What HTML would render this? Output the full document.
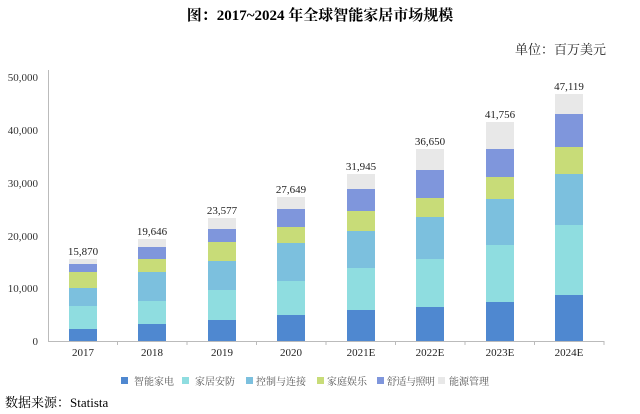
<!DOCTYPE html>
<html><head><meta charset="utf-8"><style>
html,body{margin:0;padding:0;background:#fff;}
svg{display:block;}
text{font-family:"Liberation Serif","Noto Serif CJK SC",serif;}
</style></head><body>
<svg width="640" height="414" xmlns="http://www.w3.org/2000/svg">
<text x="320" y="20" text-anchor="middle" font-size="15" font-weight="bold" fill="#000">图：2017~2024 年全球智能家居市场规模</text>
<text x="606" y="54" text-anchor="end" font-size="13" fill="#222">单位：百万美元</text>
<g font-size="11" fill="#333" text-anchor="end">
<text x="38" y="81">50,000</text>
<text x="38" y="134">40,000</text>
<text x="38" y="187">30,000</text>
<text x="38" y="240">20,000</text>
<text x="38" y="292">10,000</text>
<text x="38" y="345">0</text>
</g>
<line x1="48.5" y1="70" x2="48.5" y2="341" stroke="#bbb"/>
<line x1="48" y1="341.5" x2="604" y2="341.5" stroke="#bbb"/>
<g stroke="#bbb">
<line x1="117.5" y1="341" x2="117.5" y2="345"/><line x1="187" y1="341" x2="187" y2="345"/>
<line x1="256.5" y1="341" x2="256.5" y2="345"/><line x1="326" y1="341" x2="326" y2="345"/>
<line x1="395.5" y1="341" x2="395.5" y2="345"/><line x1="465" y1="341" x2="465" y2="345"/>
<line x1="534.5" y1="341" x2="534.5" y2="345"/><line x1="604" y1="341" x2="604" y2="345"/>
</g>
<g font-size="11" fill="#222" text-anchor="middle">
<text x="83" y="356">2017</text><text x="152" y="356">2018</text><text x="222" y="356">2019</text><text x="291" y="356">2020</text>
<text x="361" y="356">2021E</text><text x="430" y="356">2022E</text><text x="500" y="356">2023E</text><text x="569" y="356">2024E</text>
</g>
<g>
<rect x="69" y="329" width="28" height="12" fill="#4f88d0"/><rect x="69" y="306" width="28" height="23" fill="#8fdde0"/><rect x="69" y="288" width="28" height="18" fill="#7cc0de"/><rect x="69" y="272" width="28" height="16" fill="#c8dc78"/><rect x="69" y="264" width="28" height="8" fill="#7f96dc"/><rect x="69" y="259" width="28" height="5" fill="#e8e8e8"/>
<rect x="138" y="324" width="28" height="17" fill="#4f88d0"/><rect x="138" y="301" width="28" height="23" fill="#8fdde0"/><rect x="138" y="272" width="28" height="29" fill="#7cc0de"/><rect x="138" y="259" width="28" height="13" fill="#c8dc78"/><rect x="138" y="247" width="28" height="12" fill="#7f96dc"/><rect x="138" y="239" width="28" height="8" fill="#e8e8e8"/>
<rect x="208" y="320" width="28" height="21" fill="#4f88d0"/><rect x="208" y="290" width="28" height="30" fill="#8fdde0"/><rect x="208" y="261" width="28" height="29" fill="#7cc0de"/><rect x="208" y="242" width="28" height="19" fill="#c8dc78"/><rect x="208" y="229" width="28" height="13" fill="#7f96dc"/><rect x="208" y="218" width="28" height="11" fill="#e8e8e8"/>
<rect x="277" y="315" width="28" height="26" fill="#4f88d0"/><rect x="277" y="281" width="28" height="34" fill="#8fdde0"/><rect x="277" y="243" width="28" height="38" fill="#7cc0de"/><rect x="277" y="227" width="28" height="16" fill="#c8dc78"/><rect x="277" y="209" width="28" height="18" fill="#7f96dc"/><rect x="277" y="197" width="28" height="12" fill="#e8e8e8"/>
<rect x="347" y="310" width="28" height="31" fill="#4f88d0"/><rect x="347" y="268" width="28" height="42" fill="#8fdde0"/><rect x="347" y="231" width="28" height="37" fill="#7cc0de"/><rect x="347" y="211" width="28" height="20" fill="#c8dc78"/><rect x="347" y="189" width="28" height="22" fill="#7f96dc"/><rect x="347" y="174" width="28" height="15" fill="#e8e8e8"/>
<rect x="416" y="307" width="28" height="34" fill="#4f88d0"/><rect x="416" y="259" width="28" height="48" fill="#8fdde0"/><rect x="416" y="217" width="28" height="42" fill="#7cc0de"/><rect x="416" y="198" width="28" height="19" fill="#c8dc78"/><rect x="416" y="170" width="28" height="28" fill="#7f96dc"/><rect x="416" y="149" width="28" height="21" fill="#e8e8e8"/>
<rect x="486" y="302" width="28" height="39" fill="#4f88d0"/><rect x="486" y="245" width="28" height="57" fill="#8fdde0"/><rect x="486" y="199" width="28" height="46" fill="#7cc0de"/><rect x="486" y="177" width="28" height="22" fill="#c8dc78"/><rect x="486" y="149" width="28" height="28" fill="#7f96dc"/><rect x="486" y="122" width="28" height="27" fill="#e8e8e8"/>
<rect x="555" y="295" width="28" height="46" fill="#4f88d0"/><rect x="555" y="225" width="28" height="70" fill="#8fdde0"/><rect x="555" y="174" width="28" height="51" fill="#7cc0de"/><rect x="555" y="147" width="28" height="27" fill="#c8dc78"/><rect x="555" y="114" width="28" height="33" fill="#7f96dc"/><rect x="555" y="94" width="28" height="20" fill="#e8e8e8"/>
</g>
<g font-size="11" fill="#222" text-anchor="middle">
<text x="83" y="255">15,870</text><text x="152" y="235">19,646</text><text x="222" y="214">23,577</text><text x="291" y="193">27,649</text>
<text x="361" y="170">31,945</text><text x="430" y="145">36,650</text><text x="500" y="118">41,756</text><text x="569" y="90">47,119</text>
</g>
<g font-size="10" fill="#555">
<rect x="121" y="377" width="7" height="7" fill="#4f88d0"/><text x="134" y="385">智能家电</text>
<rect x="182" y="377" width="7" height="7" fill="#8fdde0"/><text x="195" y="385">家居安防</text>
<rect x="246" y="377" width="7" height="7" fill="#7cc0de"/><text x="256" y="385">控制与连接</text>
<rect x="317" y="377" width="7" height="7" fill="#c8dc78"/><text x="327" y="385">家庭娱乐</text>
<rect x="377" y="377" width="7" height="7" fill="#7f96dc"/><text x="387" y="385" textLength="48">舒适与照明</text>
<rect x="438" y="377" width="7" height="7" fill="#e8e8e8"/><text x="449" y="385">能源管理</text>
</g>
<text x="5" y="407" font-size="13" fill="#000">数据来源：Statista</text>
</svg>
</body></html>
